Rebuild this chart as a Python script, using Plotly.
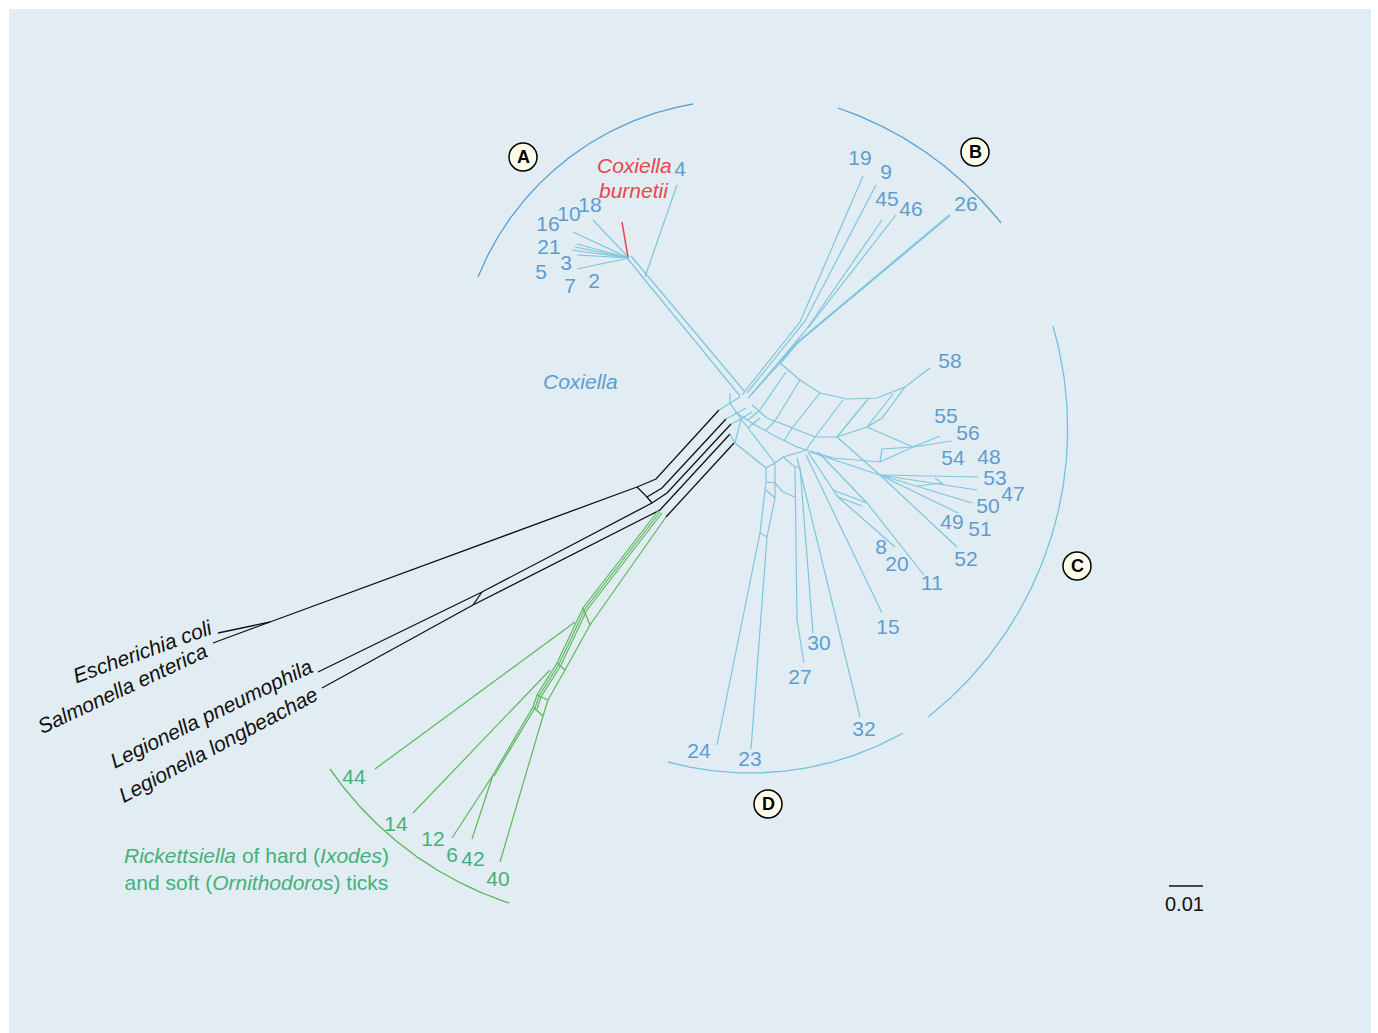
import math
import plotly.graph_objects as go

# ---------------- DATA ----------------
# Tip labels (numbers) of Coxiella-like endosymbionts and their layout positions (px)
labels_A = ["4", "18", "10", "16", "21", "3", "5", "7", "2"]
lx_A = [680, 590, 569, 548, 549, 566, 541, 570, 594]
ly_A = [171, 207, 216, 226, 249, 265, 274, 288, 283]

labels_B = ["19", "9", "45", "46", "26"]
lx_B = [860, 886, 887, 911, 966]
ly_B = [160, 174, 201, 211, 206]

labels_C = ["58", "55", "56", "54", "48", "53", "47", "50", "49", "51", "52", "8", "20", "11", "15"]
lx_C = [950, 946, 968, 953, 989, 995, 1013, 988, 952, 980, 966, 881, 897, 932, 888]
ly_C = [363, 418, 435, 460, 459, 480, 496, 508, 524, 531, 561, 549, 566, 585, 629]

labels_D = ["30", "27", "32", "24", "23"]
lx_D = [819, 800, 864, 699, 750]
ly_D = [645, 679, 731, 753, 761]

labels_R = ["44", "14", "12", "6", "42", "40"]
lx_R = [354, 396, 433, 452, 473, 498]
ly_R = [779, 826, 841, 857, 861, 881]

outgroups = ["Escherichia coli", "Salmonella enterica", "Legionella pneumophila", "Legionella longbeachae"]
og_x = [142, 122, 211, 218]
og_y = [651, 688, 713, 744]
og_angle = [-20, -25, -26, -28]

# Network edges (split-network layout, px)
edges_blue = [
    # clade A
    [(593, 220), (629, 258)], [(573, 232), (629, 258)], [(577, 244), (629, 258)],
    [(575, 247), (629, 258)], [(572, 250), (629, 258)], [(577, 255), (629, 258)],
    [(577, 269), (629, 258)],
    [(627, 258), (740, 396)], [(631, 256), (745, 392)], [(677, 185), (645, 277)],
    # clade B
    [(863, 176), (800, 322), (742, 395)], [(876, 185), (805, 321), (747, 393)],
    [(882, 220), (806, 330), (751, 395)], [(896, 215), (808, 328)],
    # clade C upper band (58)
    [(780, 363), (800, 380), (820, 393), (847, 399), (877, 398), (905, 387), (930, 368)],
    [(752, 405), (767, 418), (790, 427), (815, 437), (837, 437), (867, 427), (882, 418), (905, 387)],
    [(760, 410), (786, 372)], [(775, 421), (800, 380)], [(792, 428), (820, 393)],
    [(815, 437), (843, 400)], [(837, 437), (868, 399)], [(867, 427), (893, 394)],
    [(780, 363), (748, 398)],
    # clade C second band (55, 56)
    [(735, 412), (755, 425), (773, 435), (797, 447), (833, 458), (880, 462), (913, 447)],
    [(748, 420), (760, 410)], [(765, 431), (775, 421)], [(784, 441), (792, 428)],
    [(806, 450), (815, 437)], [(867, 427), (913, 447)], [(880, 462), (882, 449), (913, 447)],
    [(913, 447), (940, 436)], [(913, 447), (952, 441)],
    # clade C fan
    [(810, 452), (880, 475)], [(837, 437), (880, 475)],
    [(880, 475), (978, 477)], [(880, 475), (977, 490)], [(880, 475), (972, 503)],
    [(880, 475), (958, 513)], [(880, 475), (957, 547)],
    [(918, 486), (941, 483)], [(935, 478), (943, 484)],
    # 8, 20, 11, 15
    [(808, 452), (838, 497), (895, 547)], [(818, 452), (867, 503), (924, 575)],
    [(833, 490), (867, 503)], [(838, 497), (862, 506)],
    [(806, 455), (882, 613)],
    # clade D
    [(766, 468), (766, 482), (760, 533), (717, 745)],
    [(775, 463), (775, 483), (775, 498), (767, 537), (751, 749)],
    [(766, 468), (775, 463)], [(766, 482), (775, 483)], [(760, 533), (767, 537)],
    [(775, 498), (766, 490)],
    [(775, 463), (783, 457), (795, 467), (797, 620), (804, 663)],
    [(783, 457), (807, 450)], [(800, 467), (813, 633)], [(795, 467), (800, 467)],
    [(783, 492), (795, 497)], [(775, 483), (783, 492)], [(797, 458), (860, 717)],
    # central hub
    [(719, 410), (730, 403), (740, 397)], [(726, 419), (737, 413), (746, 408)],
    [(731, 424), (741, 419), (752, 412)], [(730, 393), (730, 403), (737, 413), (741, 419), (748, 428)],
    [(730, 434), (735, 443), (766, 468)], [(748, 428), (775, 463)], [(741, 419), (735, 443)],
    [(748, 428), (760, 418)],
]
edges_blue_thick = [[(950, 215), (797, 343), (780, 363)]]
edges_red = [[(622, 222), (628, 257)]]
edges_black = [
    [(218, 633), (270, 622)], [(213, 643), (270, 622)],
    [(270, 622), (637, 487), (656, 479), (719, 410)],
    [(637, 487), (647, 497), (662, 488), (726, 419)],
    [(318, 672), (482, 592), (652, 503), (667, 493), (731, 424)],
    [(322, 688), (473, 605), (660, 510), (730, 434)],
    [(482, 592), (473, 605)], [(647, 497), (652, 503)],
    [(666, 517), (734, 443)],
]
edges_green = [
    [(658, 511), (583, 608), (557, 663), (537, 695), (533, 707), (493, 775)],
    [(660, 512), (585, 609), (559, 664), (539, 696), (535, 708), (494, 776)],
    [(662, 513), (587, 610), (561, 665), (541, 697), (537, 709)],
    [(666, 517), (590, 625), (565, 670), (548, 700), (543, 716), (500, 862)],
    [(583, 608), (590, 625)], [(557, 663), (565, 670)], [(537, 695), (548, 700)],
    [(533, 707), (543, 716)],
    [(575, 622), (375, 769)], [(550, 670), (413, 813)],
    [(493, 775), (452, 838)], [(493, 775), (472, 839)],
]

# Clade arcs: three points each (start, middle, end)
arcs = {
    "A": [(478, 277), (570, 157), (693, 104)],
    "B": [(838, 108), (907, 140), (1001, 223)],
    "C": [(1053, 326), (1067, 450), (928, 717)],
    "D": [(668, 762), (750, 773), (903, 733)],
    "R": [(330, 769), (405, 848), (509, 903)],
}
arc_colors = {"A": "#5b9fd2", "B": "#5b9fd2", "C": "#74c0dc", "D": "#74c0dc", "R": "#5ab55a"}

clade_letters = ["A", "B", "C", "D"]
clade_lx = [523, 975, 1077, 768]
clade_ly = [157, 152, 566, 804]

# ---------------- FIGURE ----------------
W, H = 1378, 1033
BG = "#e1ecf3"
BLUE_LINE = "#7ec6de"
BLUE_TXT = "#5e9dd0"
GREEN_LINE = "#5cb85c"
GREEN_TXT = "#45b07a"
RED = "#e8474c"
FONT = "Liberation Sans, Arial, sans-serif"
FS = 21

fig = go.Figure()


def add_edges(edges, color, width):
    xs, ys = [], []
    for poly in edges:
        for (x, y) in poly:
            xs.append(x)
            ys.append(y)
        xs.append(None)
        ys.append(None)
    fig.add_trace(go.Scatter(x=xs, y=ys, mode="lines", line=dict(color=color, width=width),
                             hoverinfo="skip", showlegend=False))


def circle3(p1, p2, p3):
    ax, ay = p1
    bx, by = p2
    cx, cy = p3
    d = 2 * (ax * (by - cy) + bx * (cy - ay) + cx * (ay - by))
    ux = ((ax**2 + ay**2) * (by - cy) + (bx**2 + by**2) * (cy - ay) + (cx**2 + cy**2) * (ay - by)) / d
    uy = ((ax**2 + ay**2) * (cx - bx) + (bx**2 + by**2) * (ax - cx) + (cx**2 + cy**2) * (bx - ax)) / d
    r = math.hypot(ax - ux, ay - uy)
    return ux, uy, r


def add_arc(pts, color):
    ux, uy, r = circle3(*pts)
    a1 = math.atan2(pts[0][1] - uy, pts[0][0] - ux)
    a2 = math.atan2(pts[1][1] - uy, pts[1][0] - ux)
    a3 = math.atan2(pts[2][1] - uy, pts[2][0] - ux)

    def norm(a):
        return a % (2 * math.pi)
    d13 = norm(a3 - a1)
    d12 = norm(a2 - a1)
    if d12 > d13:
        d13 = d13 - 2 * math.pi
    n = 120
    xs = [ux + r * math.cos(a1 + d13 * i / n) for i in range(n + 1)]
    ys = [uy + r * math.sin(a1 + d13 * i / n) for i in range(n + 1)]
    fig.add_trace(go.Scatter(x=xs, y=ys, mode="lines", line=dict(color=color, width=1.3),
                             hoverinfo="skip", showlegend=False))


add_edges(edges_black, "#111111", 1.3)
add_edges(edges_green, GREEN_LINE, 1.2)
add_edges(edges_blue, BLUE_LINE, 1.2)
add_edges(edges_blue_thick, BLUE_LINE, 2.2)
add_edges(edges_red, RED, 1.5)
for k, pts in arcs.items():
    add_arc(pts, arc_colors[k])


def add_labels(labels, xs, ys, color):
    fig.add_trace(go.Scatter(x=xs, y=ys, mode="text", text=labels,
                             textfont=dict(family=FONT, size=FS, color=color),
                             hoverinfo="skip", showlegend=False))


add_labels(labels_A, lx_A, ly_A, BLUE_TXT)
add_labels(labels_B, lx_B, ly_B, BLUE_TXT)
add_labels(labels_C, lx_C, ly_C, BLUE_TXT)
add_labels(labels_D, lx_D, ly_D, BLUE_TXT)
add_labels(labels_R, lx_R, ly_R, GREEN_TXT)

annotations = []
for name, x, y, ang in zip(outgroups, og_x, og_y, og_angle):
    annotations.append(dict(x=x, y=y, text=f"<i>{name}</i>", showarrow=False, textangle=ang,
                            font=dict(family=FONT, size=FS, color="#111111")))
annotations += [
    dict(x=634, y=165, text="<i>Coxiella</i>", showarrow=False,
         font=dict(family=FONT, size=FS, color=RED)),
    dict(x=634, y=190, text="<i>burnetii</i>", showarrow=False,
         font=dict(family=FONT, size=FS, color=RED)),
    dict(x=580, y=381, text="<i>Coxiella</i>", showarrow=False,
         font=dict(family=FONT, size=FS, color=BLUE_TXT)),
    dict(x=256, y=869, text="<i>Rickettsiella</i> of hard (<i>Ixodes</i>)<br>and soft (<i>Ornithodoros</i>) ticks",
         showarrow=False, align="center", font=dict(family=FONT, size=FS, color=GREEN_TXT)),
    dict(x=1184, y=904, text="0.01", showarrow=False, font=dict(family=FONT, size=20, color="#111111")),
]
for L, x, y in zip(clade_letters, clade_lx, clade_ly):
    annotations.append(dict(x=x, y=y, text=f"<b>{L}</b>", showarrow=False,
                            font=dict(family=FONT, size=18, color="#000000")))

shapes = [dict(type="rect", xref="x", yref="y", x0=9, x1=1371, y0=9, y1=1033,
               fillcolor=BG, line=dict(width=0), layer="below")]
for x, y in zip(clade_lx, clade_ly):
    shapes.append(dict(type="circle", xref="x", yref="y", x0=x - 14, x1=x + 14, y0=y - 14, y1=y + 14,
                       fillcolor="#fffdea", line=dict(color="#000000", width=1.5), layer="below"))
# scale bar
shapes.append(dict(type="line", xref="x", yref="y", x0=1169, x1=1203, y0=886, y1=886,
                   line=dict(color="#111111", width=1.3)))

fig.update_layout(
    width=W, height=H, margin=dict(l=0, r=0, t=0, b=0),
    paper_bgcolor="#ffffff", plot_bgcolor="#ffffff",
    xaxis=dict(range=[0, W], visible=False, fixedrange=True),
    yaxis=dict(range=[H, 0], visible=False, fixedrange=True),
    shapes=shapes, annotations=annotations, showlegend=False,
)
fig.write_html("out.html")
